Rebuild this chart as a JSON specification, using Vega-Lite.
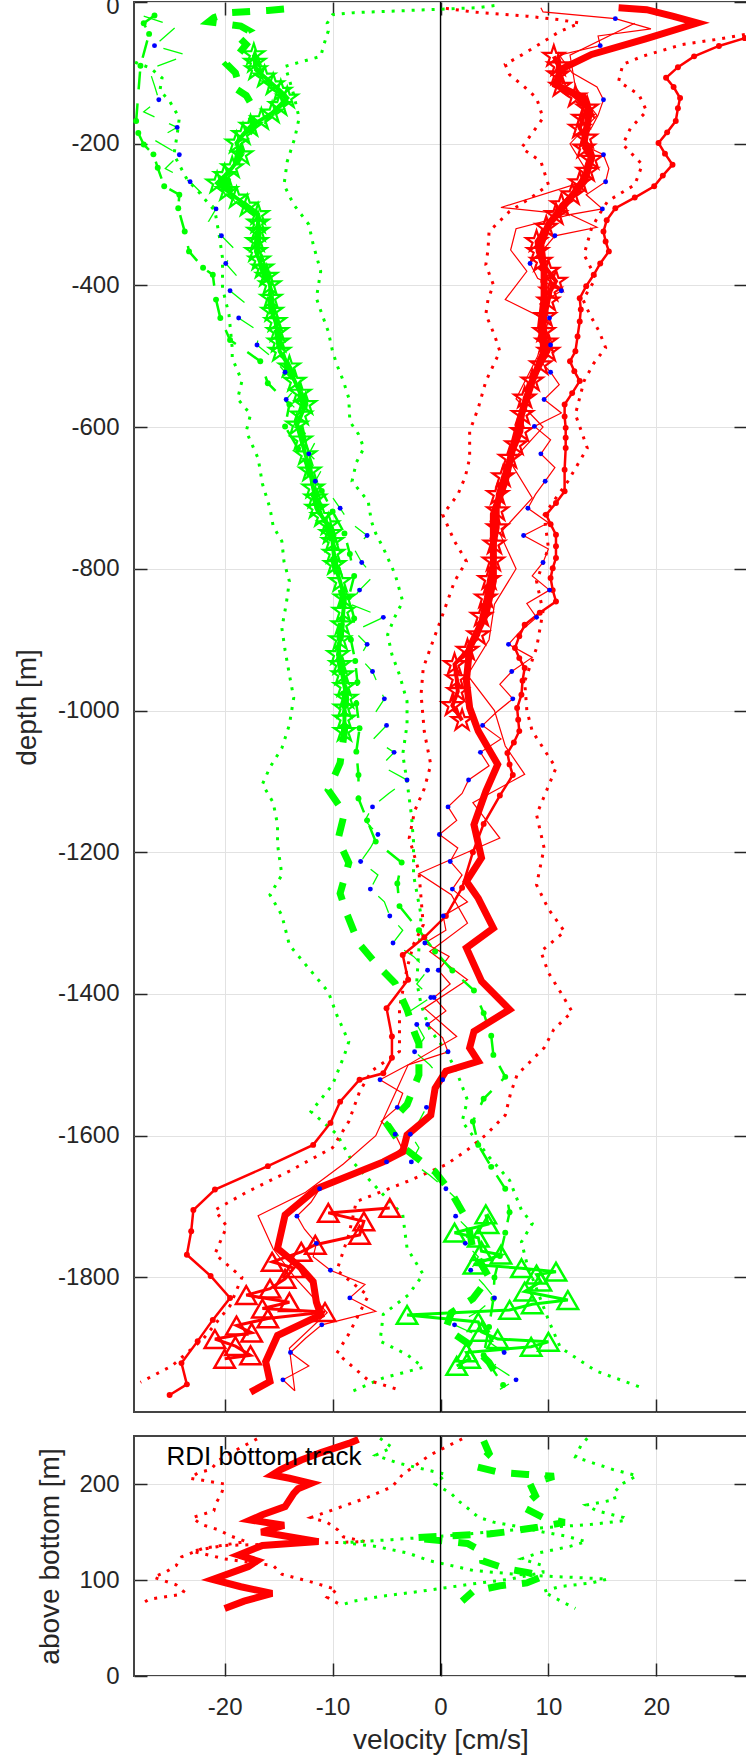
{
"$schema":"https://vega.github.io/schema/vega-lite/v6.json",
"background":"white",
"padding":{"left":12,"top":-8,"right":0,"bottom":9},
"config":{
"font":"Liberation Sans",
"view":{"stroke":"#444444","strokeWidth":2},
"axis":{"labelFont":"Liberation Sans","labelFontSize":24,"labelColor":"#262626","titleFont":"Liberation Sans","titleFontSize":28,"titleFontWeight":"normal","titleColor":"#262626","tickColor":"#262626","tickWidth":1.5,"tickSize":-13,"gridColor":"#e2e2e2","gridWidth":1,"domain":false,"labelFlush":false,"labelOverlap":false,"labelExpr":"''+datum.value"}
},
"datasets":{
"R1":[{"d":-8,"u":16.5},{"d":-10.8,"u":19.1},{"d":-20,"u":21.5},{"d":-29.6,"u":23.8},{"d":-52,"u":19},{"d":-74,"u":14.0},{"d":-95.5,"u":11.1},{"d":-117,"u":10.7},{"d":-135.5,"u":13.3},{"d":-155,"u":13.8},{"d":-173,"u":13.6},{"d":-197,"u":13.3},{"d":-220,"u":14.0},{"d":-253,"u":13.3},{"d":-286,"u":11.5},{"d":-314,"u":10.0},{"d":-342,"u":9.3},{"d":-380,"u":9.6},{"d":-418,"u":9.6},{"d":-455,"u":9.3},{"d":-493,"u":9.6},{"d":-535,"u":8.5},{"d":-582,"u":7.5},{"d":-629,"u":6.7},{"d":-676,"u":6.0},{"d":-723,"u":4.9},{"d":-770,"u":4.9},{"d":-817,"u":4.9},{"d":-864,"u":4.2},{"d":-911,"u":2.7},{"d":-958,"u":2.4},{"d":-996,"u":2.7},{"d":-1029,"u":3.5},{"d":-1076,"u":5.3},{"d":-1114,"u":4.2},{"d":-1161,"u":3.1},{"d":-1208,"u":3.8},{"d":-1241,"u":2.4},{"d":-1265,"u":3.5},{"d":-1307,"u":4.9},{"d":-1335,"u":2.4},{"d":-1382,"u":3.8},{"d":-1422,"u":6.4},{"d":-1453,"u":3.1},{"d":-1476,"u":2.7},{"d":-1495,"u":3.5},{"d":-1509,"u":0.5},{"d":-1533,"u":-0.5},{"d":-1571,"u":-0.9},{"d":-1599,"u":-3.1},{"d":-1623,"u":-3.5},{"d":-1637,"u":-5.3},{"d":-1675,"u":-11.5},{"d":-1712,"u":-14.4},{"d":-1759,"u":-15.1},{"d":-1787,"u":-12.9},{"d":-1806,"u":-11.8},{"d":-1835,"u":-11.5},{"d":-1853,"u":-11.1},{"d":-1882,"u":-15.1},{"d":-1919,"u":-16.2},{"d":-1947,"u":-15.8},{"d":-1962,"u":-17.6}],
"RS":[{"d":-76.7,"u":10.5},{"d":-90,"u":10.9},{"d":-102.6,"u":10.9},{"d":-119,"u":11.1},{"d":-134,"u":12.5},{"d":-149.6,"u":13.6},{"d":-164,"u":13.2},{"d":-178,"u":12.9},{"d":-192,"u":13.5},{"d":-206,"u":13.3},{"d":-222,"u":14.0},{"d":-239,"u":13.6},{"d":-255,"u":12.9},{"d":-272,"u":12.2},{"d":-286,"u":11.2},{"d":-300,"u":10.7},{"d":-318,"u":9.8},{"d":-338,"u":8.9},{"d":-352,"u":9.0},{"d":-366,"u":9.3},{"d":-380,"u":10.0},{"d":-394,"u":10.7},{"d":-408,"u":10.2},{"d":-422,"u":10.0},{"d":-444,"u":9.7},{"d":-465,"u":9.6},{"d":-480,"u":9.8},{"d":-493,"u":10.0},{"d":-512,"u":9.3},{"d":-535,"u":8.5},{"d":-559,"u":7.8},{"d":-582,"u":7.6},{"d":-606,"u":7.5},{"d":-625,"u":7.0},{"d":-644,"u":6.4},{"d":-670,"u":5.8},{"d":-695,"u":5.3},{"d":-718,"u":5.3},{"d":-742,"u":5.3},{"d":-765,"u":5.0},{"d":-789,"u":4.9},{"d":-815,"u":4.5},{"d":-841,"u":4.2},{"d":-867,"u":3.8},{"d":-893,"u":3.5},{"d":-915,"u":2.5},{"d":-935,"u":1.3},{"d":-955,"u":1.5},{"d":-973,"u":1.6},{"d":-993,"u":1.1},{"d":-1014,"u":2.0}],
"RT":[{"d":-1702,"u":-4.7},{"d":-1709,"u":-10.4},{"d":-1721,"u":-7.1},{"d":-1740,"u":-7.5},{"d":-1754,"u":-11.6},{"d":-1764,"u":-12.9},{"d":-1778,"u":-15.6},{"d":-1787,"u":-13.6},{"d":-1802,"u":-14.4},{"d":-1816,"u":-15.8},{"d":-1825,"u":-18.0},{"d":-1835,"u":-14.0},{"d":-1844,"u":-16.5},{"d":-1849,"u":-10.7},{"d":-1858,"u":-16.0},{"d":-1868,"u":-18.9},{"d":-1878,"u":-17.5},{"d":-1887,"u":-20.9},{"d":-1897,"u":-19.0},{"d":-1910,"u":-17.6},{"d":-1915,"u":-20.0}],
"GT":[{"d":-1711,"u":4.2},{"d":-1725,"u":4.4},{"d":-1737,"u":1.3},{"d":-1744,"u":3.5},{"d":-1763,"u":3.8},{"d":-1768,"u":5.6},{"d":-1782,"u":3.1},{"d":-1787,"u":7.5},{"d":-1792,"u":10.7},{"d":-1796,"u":8.9},{"d":-1806,"u":9.3},{"d":-1820,"u":7.8},{"d":-1832,"u":11.8},{"d":-1838,"u":8.5},{"d":-1846,"u":6.4},{"d":-1853,"u":-3.1},{"d":-1863,"u":3.5},{"d":-1877,"u":3.8},{"d":-1887,"u":5.3},{"d":-1891,"u":10.0},{"d":-1898,"u":8.4},{"d":-1906,"u":2.4},{"d":-1915,"u":2.7},{"d":-1925,"u":1.5}],
"RB":[{"d":-8,"u":9.3},{"d":-14,"u":9.5},{"d":-23.5,"u":16.2},{"d":-38,"u":19.5},{"d":-48,"u":14.6},{"d":-61.6,"u":14.8},{"d":-75,"u":11},{"d":-100,"u":12.2},{"d":-120,"u":14.5},{"d":-138,"u":15.1},{"d":-160,"u":14.6},{"d":-177,"u":14.0},{"d":-200,"u":13.0},{"d":-215.5,"u":15.1},{"d":-235,"u":15.6},{"d":-253.6,"u":15.3},{"d":-272,"u":13.5},{"d":-292,"u":15.0},{"d":-300,"u":12.0},{"d":-318,"u":14.5},{"d":-330,"u":10.6},{"d":-350,"u":9.5},{"d":-369,"u":8.3},{"d":-390,"u":9.0},{"d":-407.5,"u":11.2},{"d":-426,"u":9.2},{"d":-446,"u":10.1},{"d":-465,"u":9.0},{"d":-484,"u":10.2},{"d":-503,"u":9.0},{"d":-522.5,"u":10.2},{"d":-540,"u":11.0},{"d":-561,"u":9.6},{"d":-580,"u":11.2},{"d":-599,"u":8.7},{"d":-618,"u":10.2},{"d":-637.7,"u":9.3},{"d":-657,"u":10.6},{"d":-676.3,"u":9.7},{"d":-695,"u":8.8},{"d":-714.5,"u":8.1},{"d":-735,"u":10.0},{"d":-753,"u":7.7},{"d":-772,"u":10.0},{"d":-791,"u":9.5},{"d":-810,"u":8.5},{"d":-830,"u":10.1},{"d":-849,"u":8.0},{"d":-868.5,"u":8.9},{"d":-888,"u":7.4},{"d":-906.6,"u":6.3},{"d":-925,"u":8.5},{"d":-945,"u":6.6},{"d":-963,"u":5.5},{"d":-983.5,"u":6.7},{"d":-1002,"u":5.2},{"d":-1021,"u":3.9},{"d":-1040,"u":5.6},{"d":-1059,"u":3.7},{"d":-1078,"u":4.5},{"d":-1098,"u":2.6},{"d":-1117,"u":2.0},{"d":-1136,"u":0.7},{"d":-1155,"u":1.5},{"d":-1175,"u":-0.1},{"d":-1194,"u":1.6},{"d":-1213,"u":0.9},{"d":-1232,"u":2.0},{"d":-1252,"u":1.1},{"d":-1270,"u":2.5},{"d":-1290,"u":0.25},{"d":-1310,"u":0.5},{"d":-1328,"u":-1.45},{"d":-1347,"u":0.8},{"d":-1366.6,"u":-0.2},{"d":-1386,"u":0.9},{"d":-1405,"u":-0.6},{"d":-1424,"u":0.5},{"d":-1443,"u":-1.2},{"d":-1462,"u":0.2},{"d":-1481.6,"u":0.7},{"d":-1500,"u":-3.0},{"d":-1521,"u":-5.6},{"d":-1540,"u":-3.5},{"d":-1560,"u":-4.0},{"d":-1580,"u":-5.5},{"d":-1598,"u":-4.2},{"d":-1617,"u":-3.6},{"d":-1637,"u":-5.0},{"d":-1656,"u":-8.5},{"d":-1675,"u":-11.2},{"d":-1694,"u":-12.0},{"d":-1713.6,"u":-13.3},{"d":-1732,"u":-12.6},{"d":-1752,"u":-11.5},{"d":-1771,"u":-11.8},{"d":-1790,"u":-10.2},{"d":-1810,"u":-7.0},{"d":-1829,"u":-8.4},{"d":-1848,"u":-6.0},{"d":-1867,"u":-11.0},{"d":-1886,"u":-12.5},{"d":-1906,"u":-13.9},{"d":-1925,"u":-12.2},{"d":-1944.6,"u":-14.6},{"d":-1960,"u":-13.5}],
"BR":[{"d":-23.5,"u":16.2},{"d":-61.6,"u":14.8},{"d":-138,"u":15.1},{"d":-215.5,"u":15.1},{"d":-253.6,"u":15.3},{"d":-292,"u":15.0},{"d":-330,"u":10.6},{"d":-369,"u":8.3},{"d":-407.5,"u":11.2},{"d":-446,"u":10.1},{"d":-484,"u":10.2},{"d":-522.5,"u":10.2},{"d":-561,"u":9.6},{"d":-599,"u":8.7},{"d":-637.7,"u":9.3},{"d":-676.3,"u":9.7},{"d":-714.5,"u":8.1},{"d":-753,"u":7.7},{"d":-791,"u":9.5},{"d":-830,"u":10.1},{"d":-868.5,"u":8.9},{"d":-906.6,"u":6.3},{"d":-945,"u":6.6},{"d":-983.5,"u":6.7},{"d":-1021,"u":3.9},{"d":-1059,"u":3.7},{"d":-1098,"u":2.6},{"d":-1136,"u":0.7},{"d":-1175,"u":-0.1},{"d":-1213,"u":0.9},{"d":-1252,"u":1.1},{"d":-1290,"u":0.25},{"d":-1328,"u":-1.45},{"d":-1366.6,"u":-0.2},{"d":-1405,"u":-0.6},{"d":-1443,"u":-1.2},{"d":-1481.6,"u":0.7},{"d":-1521,"u":-5.6},{"d":-1560,"u":-4.0},{"d":-1598,"u":-4.2},{"d":-1637,"u":-5.0},{"d":-1675,"u":-11.2},{"d":-1713.6,"u":-13.3},{"d":-1752,"u":-11.5},{"d":-1790,"u":-10.2},{"d":-1829,"u":-8.4},{"d":-1867,"u":-11.0},{"d":-1906,"u":-13.9},{"d":-1944.6,"u":-14.6}],
"RT2":[{"d":-30,"u":18},{"d":-75,"u":12},{"d":-120,"u":12.5},{"d":-160,"u":14.5},{"d":-200,"u":12},{"d":-250,"u":14},{"d":-290,"u":5.6},{"d":-300,"u":12},{"d":-320,"u":7},{"d":-350,"u":6.5},{"d":-380,"u":8},{"d":-420,"u":6.0},{"d":-450,"u":10},{"d":-500,"u":9},{"d":-560,"u":7},{"d":-600,"u":9.5},{"d":-650,"u":6.5},{"d":-700,"u":8.5},{"d":-750,"u":5.5},{"d":-800,"u":7},{"d":-850,"u":5},{"d":-900,"u":4.5},{"d":-950,"u":2.5},{"d":-1000,"u":5},{"d":-1050,"u":6},{"d":-1090,"u":7.8},{"d":-1130,"u":3},{"d":-1180,"u":5.5},{"d":-1230,"u":-2},{"d":-1260,"u":1},{"d":-1300,"u":2.5},{"d":-1340,"u":-1},{"d":-1380,"u":2.5},{"d":-1420,"u":-1.5},{"d":-1460,"u":1.5},{"d":-1500,"u":-3},{"d":-1550,"u":-4.5},{"d":-1600,"u":-6},{"d":-1640,"u":-9.0},{"d":-1680,"u":-12.5},{"d":-1713,"u":-16.9},{"d":-1760,"u":-15.5},{"d":-1800,"u":-13.5},{"d":-1850,"u":-10.5},{"d":-1900,"u":-14},{"d":-1960,"u":-13.5}],
"BG":[{"d":-61.6,"u":-26.5},{"d":-138,"u":-26.1},{"d":-177,"u":-24.4},{"d":-215.5,"u":-24.2},{"d":-253.6,"u":-23.2},{"d":-292,"u":-20.8},{"d":-330,"u":-20.3},{"d":-369,"u":-19.9},{"d":-407.5,"u":-19.5},{"d":-446,"u":-18.7},{"d":-484,"u":-17.0},{"d":-522.5,"u":-14.4},{"d":-561,"u":-14.3},{"d":-637.7,"u":-12.2},{"d":-676.3,"u":-11.6},{"d":-714.5,"u":-9.3},{"d":-753,"u":-6.8},{"d":-791,"u":-7.3},{"d":-830,"u":-7.5},{"d":-868.5,"u":-5.3},{"d":-906.6,"u":-6.8},{"d":-945,"u":-6.3},{"d":-983.5,"u":-5.2},{"d":-1021,"u":-5.0},{"d":-1059,"u":-4.3},{"d":-1098,"u":-3.1},{"d":-1136,"u":-6.3},{"d":-1175,"u":-5.8},{"d":-1213,"u":-7.4},{"d":-1252,"u":-6.5},{"d":-1290,"u":-4.7},{"d":-1328,"u":-4.4},{"d":-1366.6,"u":-1.2},{"d":-1405,"u":-0.9},{"d":-1443,"u":-2.2},{"d":-1481.6,"u":-2.4},{"d":-1521,"u":0.2},{"d":-1560,"u":-1.3},{"d":-1598,"u":-2.8},{"d":-1637,"u":-2.7},{"d":-1675,"u":0.5},{"d":-1713.6,"u":1.4},{"d":-1752,"u":2.3},{"d":-1790,"u":2.8},{"d":-1829,"u":5.0},{"d":-1867,"u":1.3},{"d":-1906,"u":5.9},{"d":-1944.6,"u":7.0}],
"GB":[{"d":-20,"u":-27.5},{"d":-35,"u":-24.5},{"d":-61.6,"u":-26.5},{"d":-75,"u":-23.5},{"d":-95,"u":-27},{"d":-118,"u":-26.5},{"d":-138,"u":-26.1},{"d":-155,"u":-27.5},{"d":-177,"u":-24.4},{"d":-195,"u":-26.5},{"d":-215.5,"u":-24.2},{"d":-235,"u":-25.5},{"d":-253.6,"u":-23.2},{"d":-272,"u":-22.0},{"d":-292,"u":-20.8},{"d":-310,"u":-21.5},{"d":-330,"u":-20.3},{"d":-350,"u":-19.0},{"d":-369,"u":-19.9},{"d":-388,"u":-18.8},{"d":-407.5,"u":-19.5},{"d":-426,"u":-18.0},{"d":-446,"u":-18.7},{"d":-465,"u":-16.8},{"d":-484,"u":-17.0},{"d":-503,"u":-15.5},{"d":-522.5,"u":-14.4},{"d":-541,"u":-13.2},{"d":-561,"u":-14.3},{"d":-580,"u":-13.0},{"d":-600,"u":-13.5},{"d":-618,"u":-11.5},{"d":-637.7,"u":-12.2},{"d":-657,"u":-10.9},{"d":-676.3,"u":-11.6},{"d":-695,"u":-10.2},{"d":-714.5,"u":-9.3},{"d":-733,"u":-8.5},{"d":-753,"u":-6.8},{"d":-772,"u":-8.0},{"d":-791,"u":-7.3},{"d":-810,"u":-6.2},{"d":-830,"u":-7.5},{"d":-849,"u":-8.5},{"d":-868.5,"u":-5.3},{"d":-888,"u":-8.0},{"d":-906.6,"u":-6.8},{"d":-925,"u":-7.5},{"d":-945,"u":-6.3},{"d":-963,"u":-5.8},{"d":-983.5,"u":-5.2},{"d":-1002,"u":-6.0},{"d":-1021,"u":-5.0},{"d":-1040,"u":-6.2},{"d":-1059,"u":-4.3},{"d":-1078,"u":-5.5},{"d":-1098,"u":-3.1},{"d":-1117,"u":-4.8},{"d":-1136,"u":-6.3},{"d":-1155,"u":-7.0},{"d":-1175,"u":-5.8},{"d":-1194,"u":-6.5},{"d":-1213,"u":-7.4},{"d":-1232,"u":-5.8},{"d":-1252,"u":-6.5},{"d":-1270,"u":-5.2},{"d":-1290,"u":-4.7},{"d":-1310,"u":-3.5},{"d":-1328,"u":-4.4},{"d":-1347,"u":-2.5},{"d":-1366.6,"u":-1.2},{"d":-1386,"u":-2.2},{"d":-1405,"u":-0.9},{"d":-1424,"u":-2.8},{"d":-1443,"u":-2.2},{"d":-1462,"u":-1.5},{"d":-1481.6,"u":-2.4},{"d":-1500,"u":-1.0},{"d":-1521,"u":0.2},{"d":-1540,"u":-0.5},{"d":-1560,"u":-1.3},{"d":-1580,"u":-2.0},{"d":-1598,"u":-2.8},{"d":-1617,"u":-2.0},{"d":-1637,"u":-2.7},{"d":-1656,"u":-1.0},{"d":-1675,"u":0.5},{"d":-1694,"u":1.8},{"d":-1713.6,"u":1.4},{"d":-1732,"u":2.6},{"d":-1752,"u":2.3},{"d":-1771,"u":3.5},{"d":-1790,"u":2.8},{"d":-1810,"u":4.0},{"d":-1829,"u":5.0},{"d":-1848,"u":3.5},{"d":-1867,"u":1.3},{"d":-1886,"u":4.0},{"d":-1906,"u":5.9},{"d":-1925,"u":5.0},{"d":-1944.6,"u":7.0},{"d":-1958,"u":5.5}],
"GS":[{"d":-74.3,"u":-17.3},{"d":-85,"u":-17.2},{"d":-95.5,"u":-17.1},{"d":-106,"u":-16.3},{"d":-116.7,"u":-15.5},{"d":-126,"u":-14.8},{"d":-135.5,"u":-14.2},{"d":-146,"u":-14.9},{"d":-156.7,"u":-15.6},{"d":-166,"u":-16.6},{"d":-175.5,"u":-17.6},{"d":-187,"u":-18.3},{"d":-199,"u":-18.9},{"d":-215.5,"u":-18.4},{"d":-234,"u":-19.3},{"d":-245,"u":-20.0},{"d":-255.5,"u":-20.7},{"d":-266,"u":-19.8},{"d":-276.6,"u":-18.9},{"d":-288,"u":-17.9},{"d":-300,"u":-16.9},{"d":-312,"u":-16.9},{"d":-323.7,"u":-16.9},{"d":-338,"u":-17.0},{"d":-352,"u":-17.1},{"d":-364,"u":-16.8},{"d":-375.4,"u":-16.5},{"d":-387,"u":-16.1},{"d":-399,"u":-15.8},{"d":-418,"u":-15.7},{"d":-436.6,"u":-15.6},{"d":-451,"u":-15.3},{"d":-465,"u":-15.1},{"d":-480,"u":-15.0},{"d":-493,"u":-14.9},{"d":-515,"u":-14.0},{"d":-535.4,"u":-13.5},{"d":-552,"u":-13.0},{"d":-568,"u":-12.5},{"d":-583,"u":-12.9},{"d":-597,"u":-13.3},{"d":-618,"u":-12.9},{"d":-639,"u":-12.5},{"d":-662,"u":-12.1},{"d":-686,"u":-11.8},{"d":-700,"u":-11.6},{"d":-714.5,"u":-11.5},{"d":-726,"u":-11.0},{"d":-737.8,"u":-10.4},{"d":-750,"u":-10.2},{"d":-761.3,"u":-10.0},{"d":-778,"u":-9.9},{"d":-794,"u":-9.8},{"d":-818,"u":-9.3},{"d":-841,"u":-8.9},{"d":-860,"u":-9.0},{"d":-879,"u":-9.1},{"d":-900,"u":-9.3},{"d":-921,"u":-9.5},{"d":-935,"u":-9.3},{"d":-949.5,"u":-9.1},{"d":-966,"u":-8.9},{"d":-982.5,"u":-8.7},{"d":-996.5,"u":-8.9},{"d":-1012,"u":-8.9},{"d":-1029.4,"u":-8.9}],
"G1":[{"d":-10,"u":-14.5},{"d":-12,"u":-16},{"d":-15,"u":-19.5},{"d":-22,"u":-21.0},{"d":-28,"u":-21.5},{"d":-34,"u":-18.5},{"d":-40,"u":-17.8},{"d":-48,"u":-18.8},{"d":-60,"u":-18.0},{"d":-75,"u":-18.8},{"d":-88,"u":-19.8},{"d":-100,"u":-19.0},{"d":-110,"u":-18.8},{"d":-120,"u":-19.2},{"d":-132,"u":-18.0},{"d":-145,"u":-17.5},{"d":-160,"u":-17.6},{"d":-175,"u":-17.3},{"d":-200,"u":-18.5},{"d":-235,"u":-19.0},{"d":-255,"u":-20.0},{"d":-277,"u":-19.0},{"d":-300,"u":-17.0},{"d":-325,"u":-16.9},{"d":-352,"u":-17.0},{"d":-375,"u":-16.5},{"d":-400,"u":-15.9},{"d":-437,"u":-15.6},{"d":-465,"u":-15.1},{"d":-493,"u":-14.8},{"d":-535,"u":-13.5},{"d":-568,"u":-12.6},{"d":-600,"u":-13.0},{"d":-640,"u":-12.4},{"d":-686,"u":-11.9},{"d":-715,"u":-11.3},{"d":-740,"u":-10.5},{"d":-761,"u":-10.0},{"d":-794,"u":-9.8},{"d":-841,"u":-9.0},{"d":-879,"u":-9.2},{"d":-921,"u":-9.4},{"d":-950,"u":-9.1},{"d":-982,"u":-8.8},{"d":-1029,"u":-8.9},{"d":-1074,"u":-9.3},{"d":-1112,"u":-10.4},{"d":-1145,"u":-8.9},{"d":-1182,"u":-9.5},{"d":-1215,"u":-8.5},{"d":-1258,"u":-9.3},{"d":-1286,"u":-8.7},{"d":-1328,"u":-7.6},{"d":-1357,"u":-6.0},{"d":-1385,"u":-4.2},{"d":-1422,"u":-3.1},{"d":-1455,"u":-2.4},{"d":-1470,"u":-2.0},{"d":-1514,"u":-2.0},{"d":-1556,"u":-3.1},{"d":-1585,"u":-4.9},{"d":-1616,"u":-3.5},{"d":-1651,"u":-0.5},{"d":-1680,"u":1.0},{"d":-1720,"u":2.5},{"d":-1760,"u":3.0},{"d":-1800,"u":4.5},{"d":-1830,"u":3.0},{"d":-1850,"u":1.0},{"d":-1872,"u":0.5},{"d":-1900,"u":3.2},{"d":-1920,"u":4.5},{"d":-1945,"u":5.5}],
"GDR":[{"d":-5,"u":5.0},{"d":-8,"u":3.5},{"d":-12,"u":-3},{"d":-15,"u":-8},{"d":-18,"u":-10.0},{"d":-30,"u":-10.5},{"d":-41,"u":-10.4},{"d":-60,"u":-10.8},{"d":-76.7,"u":-11.1},{"d":-90.8,"u":-14.4},{"d":-110,"u":-14.0},{"d":-130.8,"u":-13.6},{"d":-163.7,"u":-13.1},{"d":-192,"u":-13.5},{"d":-225,"u":-14.2},{"d":-258,"u":-14.5},{"d":-286,"u":-13.6},{"d":-314,"u":-12.2},{"d":-342,"u":-11.8},{"d":-380,"u":-11.1},{"d":-418,"u":-11.5},{"d":-440,"u":-11.0},{"d":-465,"u":-10.4},{"d":-493,"u":-10.0},{"d":-512,"u":-9.6},{"d":-535,"u":-9.0},{"d":-559,"u":-8.5},{"d":-592,"u":-8.4},{"d":-610,"u":-7.6},{"d":-629.5,"u":-7.1},{"d":-650,"u":-7.8},{"d":-676.5,"u":-8.2},{"d":-704.7,"u":-6.7},{"d":-733,"u":-6.4},{"d":-750,"u":-6.0},{"d":-770.6,"u":-5.3},{"d":-808,"u":-4.2},{"d":-846,"u":-3.5},{"d":-870,"u":-4.3},{"d":-893,"u":-4.9},{"d":-921,"u":-4.5},{"d":-949.5,"u":-3.8},{"d":-987,"u":-3.1},{"d":-1020,"u":-3.1},{"d":-1062,"u":-3.5},{"d":-1100,"u":-3.1},{"d":-1147,"u":-2.7},{"d":-1185,"u":-2.5},{"d":-1232,"u":-2.5},{"d":-1289,"u":-1.8},{"d":-1336,"u":-2.0},{"d":-1383,"u":-2.2},{"d":-1415,"u":-1.8},{"d":-1450,"u":-1.0},{"d":-1480,"u":0.5},{"d":-1510,"u":1.5},{"d":-1550,"u":2.5},{"d":-1580,"u":2.0},{"d":-1602,"u":3.1},{"d":-1630,"u":4.5},{"d":-1663,"u":6.4},{"d":-1705,"u":7.5},{"d":-1724,"u":8.5},{"d":-1750,"u":7.5},{"d":-1780,"u":8.0},{"d":-1820,"u":9.0},{"d":-1860,"u":10.0},{"d":-1899,"u":11.1},{"d":-1932,"u":14.4},{"d":-1956,"u":18.7}],
"GDL2":[{"d":-85,"u":-28.3},{"d":-93,"u":-26.9},{"d":-107,"u":-25.8},{"d":-125,"u":-26.0},{"d":-140,"u":-25.1},{"d":-163.7,"u":-24.2},{"d":-187,"u":-24.4},{"d":-215.5,"u":-24.7},{"d":-250,"u":-23.5},{"d":-270,"u":-22.3},{"d":-295,"u":-20.9},{"d":-330,"u":-20.5},{"d":-361,"u":-20.2},{"d":-403.6,"u":-20.2},{"d":-441,"u":-19.6},{"d":-488,"u":-19.3},{"d":-502.6,"u":-19.3},{"d":-535,"u":-18.4},{"d":-560,"u":-18.8},{"d":-582,"u":-17.6},{"d":-606,"u":-18.0},{"d":-644,"u":-16.9},{"d":-680,"u":-16.5},{"d":-714.5,"u":-15.8},{"d":-740,"u":-15.5},{"d":-761,"u":-14.7},{"d":-790,"u":-14.5},{"d":-817.7,"u":-14.0},{"d":-850,"u":-14.3},{"d":-883.6,"u":-14.7},{"d":-915,"u":-14.4},{"d":-949.5,"u":-14.0},{"d":-982,"u":-13.6},{"d":-1020,"u":-14.0},{"d":-1053,"u":-14.7},{"d":-1080,"u":-15.8},{"d":-1104,"u":-16.5},{"d":-1130,"u":-15.5},{"d":-1161,"u":-15.1},{"d":-1189,"u":-15.1},{"d":-1232,"u":-14.7},{"d":-1260,"u":-15.8},{"d":-1289,"u":-14.7},{"d":-1331,"u":-14.0},{"d":-1364,"u":-12.2},{"d":-1397,"u":-10.4},{"d":-1430,"u":-9.6},{"d":-1467.5,"u":-8.5},{"d":-1486,"u":-8.9},{"d":-1528,"u":-10.0},{"d":-1566,"u":-12.0},{"d":-1598,"u":-9.6},{"d":-1636,"u":-8.2},{"d":-1678.6,"u":-5.6},{"d":-1711.5,"u":-3.5},{"d":-1758.6,"u":-3.1},{"d":-1796,"u":-1.6},{"d":-1825,"u":-3.0},{"d":-1852,"u":-5.3},{"d":-1890,"u":-5.6},{"d":-1909,"u":-3.1},{"d":-1927,"u":-1.6},{"d":-1942,"u":-5.3},{"d":-1961,"u":-8.2}],
"RDL2":[{"d":-9,"u":0.5},{"d":-14,"u":3.0},{"d":-20,"u":8.0},{"d":-25,"u":11.0},{"d":-29.6,"u":12.9},{"d":-42,"u":11.0},{"d":-55.5,"u":9.6},{"d":-75,"u":7.5},{"d":-88,"u":6.0},{"d":-102.6,"u":6.4},{"d":-120,"u":7.8},{"d":-135.5,"u":8.9},{"d":-163.7,"u":9.5},{"d":-185,"u":8.5},{"d":-206,"u":7.5},{"d":-225,"u":9.3},{"d":-258,"u":10.0},{"d":-275,"u":8.5},{"d":-295.5,"u":6.4},{"d":-324,"u":4.5},{"d":-350,"u":4.4},{"d":-371,"u":4.2},{"d":-399,"u":4.9},{"d":-420,"u":4.4},{"d":-441,"u":4.2},{"d":-470,"u":5.0},{"d":-493,"u":5.5},{"d":-535.4,"u":4.2},{"d":-573,"u":3.5},{"d":-606,"u":2.7},{"d":-644,"u":2.7},{"d":-670,"u":2.3},{"d":-695.5,"u":1.6},{"d":-723.6,"u":0.2},{"d":-761,"u":1.3},{"d":-789.5,"u":2.4},{"d":-817.7,"u":1.3},{"d":-864.7,"u":0.2},{"d":-902,"u":-0.7},{"d":-940,"u":-1.6},{"d":-977.6,"u":-1.8},{"d":-1030,"u":-1.5},{"d":-1076.5,"u":-0.9},{"d":-1110,"u":-1.5},{"d":-1142,"u":-2.4},{"d":-1180,"u":-2.9},{"d":-1227,"u":-2.0},{"d":-1265,"u":-1.8},{"d":-1302.5,"u":-1.6},{"d":-1330,"u":-2.5},{"d":-1363.7,"u":-3.1},{"d":-1420,"u":-3.8},{"d":-1481,"u":-3.8},{"d":-1509,"u":-6.4},{"d":-1538,"u":-7.5},{"d":-1580,"u":-8.5},{"d":-1617,"u":-10.0},{"d":-1650,"u":-14},{"d":-1680,"u":-18},{"d":-1705,"u":-20.9},{"d":-1728,"u":-19.8},{"d":-1767,"u":-20.9},{"d":-1800,"u":-18.4},{"d":-1840,"u":-19.5},{"d":-1887,"u":-22.0},{"d":-1925,"u":-24.9},{"d":-1948,"u":-27.8}],
"RDR":[{"d":-46,"u":28.2},{"d":-53,"u":25.5},{"d":-60,"u":22.4},{"d":-76.7,"u":18.7},{"d":-88,"u":16.9},{"d":-112,"u":16.5},{"d":-131,"u":18.4},{"d":-154,"u":19.1},{"d":-178,"u":17.6},{"d":-201,"u":16.9},{"d":-229.6,"u":18.7},{"d":-258,"u":18.0},{"d":-281,"u":15.5},{"d":-300,"u":14.7},{"d":-319,"u":14.0},{"d":-356.6,"u":13.3},{"d":-389.6,"u":14.4},{"d":-420,"u":13.2},{"d":-440,"u":13.8},{"d":-465,"u":14.7},{"d":-488,"u":15.3},{"d":-510,"u":14.2},{"d":-535,"u":13.3},{"d":-582,"u":12.5},{"d":-629.5,"u":13.6},{"d":-676.5,"u":11.8},{"d":-723.6,"u":9.6},{"d":-770.6,"u":10.0},{"d":-817.7,"u":8.9},{"d":-860,"u":9.5},{"d":-911.8,"u":8.9},{"d":-958.8,"u":7.8},{"d":-1000,"u":8.0},{"d":-1029,"u":8.5},{"d":-1081,"u":10.7},{"d":-1147,"u":8.9},{"d":-1194,"u":9.6},{"d":-1246,"u":8.9},{"d":-1280,"u":10.0},{"d":-1312,"u":11.5},{"d":-1340,"u":9.3},{"d":-1370,"u":10.0},{"d":-1397,"u":11.1},{"d":-1425,"u":12.2},{"d":-1450,"u":10.5},{"d":-1476,"u":9.6},{"d":-1514,"u":7.1},{"d":-1540,"u":6.5},{"d":-1571,"u":6.0},{"d":-1599,"u":4.2},{"d":-1620,"u":2.5},{"d":-1641,"u":0.5},{"d":-1664.7,"u":-3.1},{"d":-1693,"u":-7.8},{"d":-1740,"u":-8.5},{"d":-1790,"u":-9.6},{"d":-1826,"u":-6.7},{"d":-1850,"u":-7.5},{"d":-1880,"u":-8.5},{"d":-1907,"u":-9.6},{"d":-1945,"u":-6.7},{"d":-1959,"u":-3.8}],
"RDOT":[{"d":-51,"u":28.2},{"d":-62,"u":25.8},{"d":-76.7,"u":23.5},{"d":-92,"u":22.0},{"d":-107,"u":20.9},{"d":-120,"u":21.6},{"d":-135.5,"u":22.2},{"d":-150,"u":22.0},{"d":-168,"u":21.8},{"d":-184,"u":21.0},{"d":-199,"u":20.2},{"d":-214,"u":20.8},{"d":-229.6,"u":21.5},{"d":-245,"u":20.6},{"d":-260,"u":19.8},{"d":-276,"u":18.0},{"d":-291,"u":16.2},{"d":-308,"u":15.4},{"d":-324,"u":15.1},{"d":-338,"u":15.3},{"d":-352,"u":15.6},{"d":-369,"u":14.8},{"d":-385,"u":14.2},{"d":-401,"u":13.5},{"d":-418,"u":12.9},{"d":-434,"u":13.0},{"d":-451,"u":12.9},{"d":-472,"u":12.7},{"d":-493,"u":12.5},{"d":-507,"u":12.0},{"d":-521,"u":12.4},{"d":-535,"u":12.9},{"d":-552,"u":12.2},{"d":-568,"u":11.5},{"d":-585,"u":11.5},{"d":-601,"u":11.6},{"d":-615,"u":11.6},{"d":-629.5,"u":11.6},{"d":-660,"u":11.5},{"d":-690.6,"u":11.5},{"d":-707,"u":10.7},{"d":-723.6,"u":9.8},{"d":-737,"u":10.2},{"d":-751.8,"u":10.7},{"d":-768,"u":10.7},{"d":-784.8,"u":10.7},{"d":-799,"u":10.4},{"d":-813,"u":10.2},{"d":-830,"u":10.4},{"d":-846,"u":10.7},{"d":-862,"u":9.2},{"d":-879,"u":7.8},{"d":-895,"u":7.3},{"d":-911.8,"u":6.9},{"d":-926,"u":7.3},{"d":-940,"u":7.8},{"d":-958,"u":7.6},{"d":-977.6,"u":7.5},{"d":-996.5,"u":7.1},{"d":-1013,"u":7.2},{"d":-1029,"u":7.3},{"d":-1045,"u":6.8},{"d":-1060,"u":6.2},{"d":-1076,"u":6.4},{"d":-1091,"u":6.7},{"d":-1120,"u":5.5},{"d":-1160,"u":4.0},{"d":-1200,"u":3.0},{"d":-1250,"u":2.0},{"d":-1290,"u":0.5},{"d":-1320,"u":-1.5},{"d":-1345,"u":-3.5},{"d":-1380,"u":-3.0},{"d":-1420,"u":-5.0},{"d":-1460,"u":-4.5},{"d":-1490,"u":-4.5},{"d":-1512,"u":-5.3},{"d":-1521,"u":-7.5},{"d":-1552,"u":-9.3},{"d":-1582,"u":-10.2},{"d":-1613,"u":-11.8},{"d":-1643,"u":-16.0},{"d":-1676,"u":-20.9},{"d":-1705,"u":-22.9},{"d":-1735,"u":-23.1},{"d":-1768,"u":-23.5},{"d":-1798,"u":-21.3},{"d":-1829,"u":-19.5},{"d":-1860,"u":-21.1},{"d":-1890,"u":-22.5},{"d":-1921,"u":-24.0},{"d":-1951,"u":-23.5},{"d":-1966,"u":-25.1}],
"GDOT":[{"d":-19,"u":-26.5},{"d":-30,"u":-27.5},{"d":-45,"u":-27},{"d":-90,"u":-27.8},{"d":-168,"u":-28.2},{"d":-185,"u":-28.0},{"d":-201,"u":-27.5},{"d":-215,"u":-26.6},{"d":-234,"u":-26.2},{"d":-260,"u":-25.6},{"d":-272,"u":-24.2},{"d":-291,"u":-24.3},{"d":-324,"u":-23.7},{"d":-352,"u":-23.3},{"d":-375,"u":-22.0},{"d":-385,"u":-21.1},{"d":-420,"u":-20.8},{"d":-446,"u":-20.4},{"d":-477,"u":-19.5},{"d":-507,"u":-16.7},{"d":-538,"u":-16.0},{"d":-568,"u":-14.0},{"d":-599,"u":-14.4},{"d":-630,"u":-13.2},{"d":-660,"u":-12.2},{"d":-690,"u":-11.0},{"d":-719,"u":-10.0},{"d":-750,"u":-8.9},{"d":-779,"u":-8.4},{"d":-810,"u":-8.0},{"d":-840,"u":-8.5},{"d":-870,"u":-8.0},{"d":-900,"u":-8.3},{"d":-930,"u":-7.9},{"d":-960,"u":-7.7},{"d":-990,"u":-7.8},{"d":-1025,"u":-7.5},{"d":-1058,"u":-7.8},{"d":-1091,"u":-7.6},{"d":-1124,"u":-7.6},{"d":-1155,"u":-6.8},{"d":-1185,"u":-6.0},{"d":-1214.5,"u":-3.6},{"d":-1244,"u":-4.0},{"d":-1276,"u":-3.8},{"d":-1310,"u":-2.0},{"d":-1340,"u":-0.5},{"d":-1367,"u":1.1},{"d":-1395,"u":3.1},{"d":-1427,"u":4.0},{"d":-1459,"u":4.7},{"d":-1486,"u":4.9},{"d":-1517,"u":6.0},{"d":-1548,"u":4.0},{"d":-1580,"u":3.0},{"d":-1613,"u":3.5},{"d":-1644,"u":4.7},{"d":-1675,"u":6.0},{"d":-1708,"u":6.4},{"d":-1737,"u":6.0},{"d":-1770,"u":5.5},{"d":-1800,"u":5.0},{"d":-1830,"u":4.9},{"d":-1870,"u":4.5},{"d":-1910,"u":4.0},{"d":-1952,"u":5.8}],
"ZT":[{"d":0,"u":0},{"d":-1990,"u":0}],
"RBT":[{"h":246.5,"u":-7.6},{"h":242.3,"u":-8.5},{"h":233,"u":-11},{"h":225,"u":-12.9},{"h":215,"u":-14.8},{"h":209.4,"u":-15.6},{"h":206,"u":-14},{"h":200.7,"u":-12.0},{"h":195,"u":-13.2},{"h":190.3,"u":-13.6},{"h":176.4,"u":-14.4},{"h":168,"u":-16.5},{"h":162.5,"u":-17.6},{"h":157,"u":-14.5},{"h":150,"u":-16.6},{"h":140,"u":-11.3},{"h":136,"u":-16.5},{"h":126,"u":-18.7},{"h":120,"u":-17.0},{"h":114,"u":-17.8},{"h":100.6,"u":-21.1},{"h":93,"u":-18.5},{"h":86,"u":-15.6},{"h":78,"u":-18.2},{"h":70.4,"u":-20.0}],
"RBD1":[{"h":247,"u":-17.0},{"h":235,"u":-19},{"h":225,"u":-20.5},{"h":215,"u":-21.3},{"h":211.5,"u":-22.5},{"h":206,"u":-23.2},{"h":200,"u":-20.0},{"h":190,"u":-20.3},{"h":180,"u":-20.8},{"h":172,"u":-21.0},{"h":165,"u":-23.0},{"h":158,"u":-22.2},{"h":152,"u":-20.5},{"h":146,"u":-19.5},{"h":140,"u":-18.0},{"h":133,"u":-22},{"h":124,"u":-24.0},{"h":115,"u":-24.5},{"h":108,"u":-25.5},{"h":103,"u":-26.6},{"h":95,"u":-24.5},{"h":88,"u":-23.8},{"h":85,"u":-24.0},{"h":80,"u":-27.0},{"h":75.6,"u":-27.6}],
"RBD2":[{"h":247,"u":2.0},{"h":230,"u":-1},{"h":210,"u":-3.5},{"h":197,"u":-4.5},{"h":185,"u":-7},{"h":175,"u":-9.5},{"h":165,"u":-12},{"h":160,"u":-10.5},{"h":152,"u":-9.5},{"h":145,"u":-9},{"h":140,"u":-7},{"h":138,"u":-13},{"h":136,"u":-20},{"h":130,"u":-23},{"h":122,"u":-20},{"h":115,"u":-15.5},{"h":106,"u":-14.7},{"h":98,"u":-12.0},{"h":90,"u":-9.6},{"h":82,"u":-10.5},{"h":75.6,"u":-9.5}],
"GBT":[{"h":245,"u":4.0},{"h":232,"u":4.5},{"h":218,"u":3.3},{"h":212,"u":5.5},{"h":210,"u":8.0},{"h":208,"u":10.5},{"h":200,"u":8.3},{"h":188,"u":8.8},{"h":176,"u":7.6},{"h":165,"u":9.5},{"h":160,"u":11.5},{"h":155,"u":9.0},{"h":150,"u":6.0},{"h":148,"u":4.5},{"h":146,"u":1.0},{"h":144,"u":-2.5},{"h":141,"u":0.0},{"h":138,"u":2.5},{"h":130,"u":3.8},{"h":120,"u":3.9},{"h":112,"u":6.0},{"h":108,"u":8.0},{"h":104,"u":9.5},{"h":97,"u":8.0},{"h":94,"u":5.5},{"h":88,"u":3.0},{"h":78,"u":2.0}],
"GBD1":[{"h":247.6,"u":13.6},{"h":240,"u":13.0},{"h":228,"u":12.5},{"h":215,"u":16.0},{"h":208.6,"u":18.2},{"h":200,"u":16.8},{"h":190,"u":16.0},{"h":183.8,"u":16.2},{"h":178,"u":13.5},{"h":172,"u":14.5},{"h":165,"u":17.0},{"h":162,"u":17.2},{"h":158,"u":14.0},{"h":154,"u":9.0},{"h":150,"u":4.5},{"h":146,"u":0.5},{"h":142,"u":-4.5},{"h":139,"u":-9.0},{"h":135,"u":-6.0},{"h":128,"u":-3.0},{"h":120,"u":-1.0},{"h":110,"u":3.0},{"h":105,"u":8.0},{"h":101,"u":15.5},{"h":97,"u":14.0},{"h":93,"u":11.0},{"h":88,"u":9.5},{"h":82,"u":10.5},{"h":76,"u":11.5},{"h":70.4,"u":12.5}],
"GBD2":[{"h":247.6,"u":-5.6},{"h":238,"u":-4.5},{"h":230,"u":-6.0},{"h":222,"u":-4.0},{"h":214,"u":-1.0},{"h":210,"u":0.5},{"h":200,"u":-0.5},{"h":190,"u":1.0},{"h":183,"u":1.6},{"h":175,"u":2.5},{"h":165.4,"u":3.5},{"h":160,"u":5.0},{"h":155,"u":7.5},{"h":150,"u":9.5},{"h":146,"u":11.5},{"h":140,"u":13.5},{"h":135,"u":12.0},{"h":128,"u":9.0},{"h":122,"u":7.5},{"h":115,"u":9.5},{"h":108,"u":9.5},{"h":101,"u":6.5},{"h":96,"u":3.0},{"h":92,"u":0.5},{"h":88,"u":-2.0},{"h":83,"u":-5.5},{"h":78,"u":-8.0},{"h":73,"u":-9.5}],
"ZB":[{"h":0,"u":0},{"h":250,"u":0}],
"TXT":[{"h":219.8,"u":-25.4,"label":"RDI bottom track"}]
},
"spacing":8,
"vconcat":[
{
"width":613,"height":1410,
"resolve":{"axis":{"x":"independent","y":"independent"}},
"layer":[
{
"encoding":{
"x":{"field":"u","type":"quantitative","scale":{"domain":[-28.4,28.4],"nice":false,"zero":false},"axis":{"values":[-20,-10,0,10,20],"labels":false,"title":null,"grid":true}},
"y":{"field":"d","type":"quantitative","scale":{"domain":[-1990,0],"nice":false,"zero":false},"axis":{"values":[-1800,-1600,-1400,-1200,-1000,-800,-600,-400,-200,0],"title":"depth [m]","labelPadding":28,"titlePadding":16,"grid":true,"labelOffset":{"condition":{"test":"datum.value == 0","value":4},"value":0}}}
},
"layer":[
{"data":{"name":"GDL2"},"mark":{"type":"line","color":"#00ff00","strokeWidth":3,"strokeDash":[3,7]},"encoding":{"order":{"field":"d","sort":"descending"}}},
{"data":{"name":"GDR"},"mark":{"type":"line","color":"#00ff00","strokeWidth":3,"strokeDash":[3,7]},"encoding":{"order":{"field":"d","sort":"descending"}}},
{"data":{"name":"RDL2"},"mark":{"type":"line","color":"#ff0000","strokeWidth":3,"strokeDash":[3,7]},"encoding":{"order":{"field":"d","sort":"descending"}}},
{"data":{"name":"RDR"},"mark":{"type":"line","color":"#ff0000","strokeWidth":3,"strokeDash":[3,7]},"encoding":{"order":{"field":"d","sort":"descending"}}},
{"data":{"name":"GB"},"mark":{"type":"line","color":"#00ff00","strokeWidth":1.3,"strokeDash":[20,16]},"encoding":{"order":{"field":"d","sort":"descending"}}},
{"data":{"name":"RB"},"mark":{"type":"line","color":"#ff0000","strokeWidth":1.2},"encoding":{"order":{"field":"d","sort":"descending"}}},
{"data":{"name":"RT2"},"mark":{"type":"line","color":"#ff0000","strokeWidth":1.2},"encoding":{"order":{"field":"d","sort":"descending"}}},
{"data":{"name":"GDOT"},"mark":{"type":"line","color":"#00ff00","strokeWidth":2.5,"strokeDash":[18,14]},"encoding":{"order":{"field":"d","sort":"descending"}}},
{"data":{"name":"GDOT"},"mark":{"type":"point","filled":true,"color":"#00ff00","size":35,"opacity":1}},
{"data":{"name":"RDOT"},"mark":{"type":"line","color":"#ff0000","strokeWidth":2.5},"encoding":{"order":{"field":"d","sort":"descending"}}},
{"data":{"name":"RDOT"},"mark":{"type":"point","filled":true,"color":"#ff0000","size":35,"opacity":1}},
{"data":{"name":"G1"},"mark":{"type":"line","color":"#00ff00","strokeWidth":7,"strokeDash":[18,16]},"encoding":{"order":{"field":"d","sort":"descending"}}},
{"data":{"name":"R1"},"mark":{"type":"line","color":"#ff0000","strokeWidth":7},"encoding":{"order":{"field":"d","sort":"descending"}}},
{"data":{"name":"GS"},"mark":{"type":"line","color":"#00ff00","strokeWidth":4},"encoding":{"order":{"field":"d","sort":"descending"}}},
{"data":{"name":"GS"},"mark":{"type":"point","filled":false,"color":"#00ff00","strokeWidth":2.2,"size":480,"opacity":1,"shape":"M0,-1L0.2245,-0.309L0.951,-0.309L0.363,0.118L0.588,0.809L0,0.382L-0.588,0.809L-0.363,0.118L-0.951,-0.309L-0.2245,-0.309Z"}},
{"data":{"name":"RS"},"mark":{"type":"line","color":"#ff0000","strokeWidth":4},"encoding":{"order":{"field":"d","sort":"descending"}}},
{"data":{"name":"RS"},"mark":{"type":"point","filled":false,"color":"#ff0000","strokeWidth":2.2,"size":480,"opacity":1,"shape":"M0,-1L0.2245,-0.309L0.951,-0.309L0.363,0.118L0.588,0.809L0,0.382L-0.588,0.809L-0.363,0.118L-0.951,-0.309L-0.2245,-0.309Z"}},
{"data":{"name":"GT"},"mark":{"type":"line","color":"#00ff00","strokeWidth":3},"encoding":{"order":{"field":"d","sort":"descending"}}},
{"data":{"name":"GT"},"mark":{"type":"point","filled":false,"color":"#00ff00","strokeWidth":2.5,"size":420,"opacity":1,"shape":"triangle-up"}},
{"data":{"name":"RT"},"mark":{"type":"line","color":"#ff0000","strokeWidth":3},"encoding":{"order":{"field":"d","sort":"descending"}}},
{"data":{"name":"RT"},"mark":{"type":"point","filled":false,"color":"#ff0000","strokeWidth":2.5,"size":420,"opacity":1,"shape":"triangle-up"}},
{"data":{"name":"BG"},"mark":{"type":"point","filled":true,"color":"#0000ff","size":24,"opacity":1}},
{"data":{"name":"BR"},"mark":{"type":"point","filled":true,"color":"#0000ff","size":24,"opacity":1}}
]
},
{
"data":{"name":"ZT"},
"mark":{"type":"line","color":"#000000","strokeWidth":1.3},
"encoding":{
"x":{"field":"u","type":"quantitative","scale":{"domain":[-28.4,28.4],"nice":false,"zero":false},"axis":{"orient":"top","values":[-20,-10,0,10,20],"labels":false,"title":null,"grid":false}},
"y":{"field":"d","type":"quantitative","scale":{"domain":[-1990,0],"nice":false,"zero":false},"axis":{"orient":"right","values":[-1800,-1600,-1400,-1200,-1000,-800,-600,-400,-200,0],"labels":false,"title":null,"grid":false}},
"order":{"field":"d","sort":"descending"}
}
}
]
},
{
"width":613,"height":240,
"resolve":{"axis":{"x":"independent","y":"independent"}},
"layer":[
{
"encoding":{
"x":{"field":"u","type":"quantitative","scale":{"domain":[-28.4,28.4],"nice":false,"zero":false},"axis":{"values":[-20,-10,0,10,20],"title":"velocity [cm/s]","labelPadding":32,"titlePadding":7,"grid":true}},
"y":{"field":"h","type":"quantitative","scale":{"domain":[0,250],"nice":false,"zero":false},"axis":{"values":[0,100,200],"title":"above bottom [m]","labelPadding":28,"titlePadding":14,"grid":true}}
},
"layer":[
{"data":{"name":"RBD1"},"mark":{"type":"line","color":"#ff0000","strokeWidth":3,"strokeDash":[3,7]},"encoding":{"order":{"field":"h","sort":"descending"}}},
{"data":{"name":"RBD2"},"mark":{"type":"line","color":"#ff0000","strokeWidth":3,"strokeDash":[3,7]},"encoding":{"order":{"field":"h","sort":"descending"}}},
{"data":{"name":"GBD1"},"mark":{"type":"line","color":"#00ff00","strokeWidth":3,"strokeDash":[3,7]},"encoding":{"order":{"field":"h","sort":"descending"}}},
{"data":{"name":"GBD2"},"mark":{"type":"line","color":"#00ff00","strokeWidth":3,"strokeDash":[3,7]},"encoding":{"order":{"field":"h","sort":"descending"}}},
{"data":{"name":"GBT"},"mark":{"type":"line","color":"#00ff00","strokeWidth":7,"strokeDash":[18,16]},"encoding":{"order":{"field":"h","sort":"descending"}}},
{"data":{"name":"RBT"},"mark":{"type":"line","color":"#ff0000","strokeWidth":7},"encoding":{"order":{"field":"h","sort":"descending"}}},
{"data":{"name":"TXT"},"mark":{"type":"text","align":"left","baseline":"alphabetic","fontSize":26,"font":"Liberation Sans","color":"#000000"},"encoding":{"text":{"field":"label"}}}
]
},
{
"data":{"name":"ZB"},
"mark":{"type":"line","color":"#000000","strokeWidth":1.3},
"encoding":{
"x":{"field":"u","type":"quantitative","scale":{"domain":[-28.4,28.4],"nice":false,"zero":false},"axis":{"orient":"top","values":[-20,-10,0,10,20],"labels":false,"title":null,"grid":false}},
"y":{"field":"h","type":"quantitative","scale":{"domain":[0,250],"nice":false,"zero":false},"axis":{"orient":"right","values":[0,100,200],"labels":false,"title":null,"grid":false}},
"order":{"field":"h","sort":"descending"}
}
}
]
}
]
}
